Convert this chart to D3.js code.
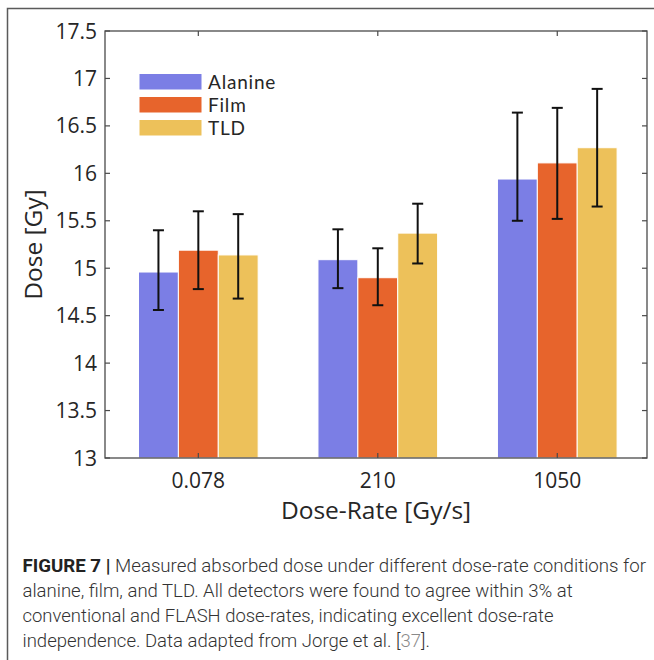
<!DOCTYPE html>
<html>
<head>
<meta charset="utf-8">
<script src="https://cdn.jsdelivr.net/npm/d3@7"></script>
<style>
  html, body { margin: 0; padding: 0; background: #fff; }
  svg { display: block; }
</style>
</head>
<body>
<svg id="chart" width="654" height="660"></svg>
<script>
// ---------- data ----------
const categories = ["0.078", "210", "1050"];
const seriesNames = ["Alanine", "Film", "TLD"];
const seriesColors = ["#7b7ee5", "#e7642c", "#edc15a"];
const alanine = [14.96, 15.09, 15.94];
const film    = [15.19, 14.90, 16.11];
const tld     = [15.14, 15.37, 16.27];
const alanineLow  = [14.56, 14.79, 15.50];
const alanineHigh = [15.40, 15.41, 16.64];
const filmLow     = [14.78, 14.61, 15.52];
const filmHigh    = [15.60, 15.21, 16.69];
const tldLow      = [14.68, 15.05, 15.65];
const tldHigh     = [15.57, 15.68, 16.89];
const yTicks = [13, 13.5, 14, 14.5, 15, 15.5, 16, 16.5, 17, 17.5];
const yTickLabels = ["13", "13.5", "14", "14.5", "15", "15.5", "16", "16.5", "17", "17.5"];
const yLabel = "Dose [Gy]";
const xLabel = "Dose-Rate [Gy/s]";
const captionBold = "FIGURE 7 |";
const captionLines = [
  "Measured absorbed dose under different dose-rate conditions for",
  "alanine, film, and TLD. All detectors were found to agree within 3% at",
  "conventional and FLASH dose-rates, indicating excellent dose-rate",
  "independence. Data adapted from Jorge et al. ["
];
const captionRef = "37";
const captionTail = "].";

const values = [alanine, film, tld];
const lows = [alanineLow, filmLow, tldLow];
const highs = [alanineHigh, filmHigh, tldHigh];

// ---------- layout ----------
const svg = d3.select("#chart");
const pLeft = 105, pRight = 647, pTop = 31, pBottom = 458;

const x = d3.scaleLinear().domain([0.48, 3.5]).range([pLeft, pRight]);
const y = d3.scaleLinear().domain([13, 17.5]).range([pBottom, pTop]);
const groupWidth = 3 / (3 + 1.5);
const barW = groupWidth / 3;
function ci2x(ci) { return ci + 1; }

// outer frame (partially cropped)
svg.append("path")
  .attr("d", "M7.5,660 L7.5,8.5 L654,8.5")
  .attr("fill", "none").attr("stroke", "#5a5a5a").attr("stroke-width", 1.5);

// bars
const bars = [];
seriesNames.forEach((s, si) => {
  categories.forEach((c, ci) => {
    bars.push({ si, ci, v: values[si][ci], lo: lows[si][ci], hi: highs[si][ci] });
  });
});

const g = svg.append("g");
g.selectAll("rect.bar").data(bars).enter().append("rect")
  .attr("class", "bar")
  .attr("x", d => x(ci2x(d.ci) + (d.si - 1) * barW - barW / 2))
  .attr("width", d => x(barW) - x(0))
  .attr("y", d => y(d.v))
  .attr("height", d => y(13) - y(d.v))
  .attr("fill", d => seriesColors[d.si])
  .attr("stroke", "#fff").attr("stroke-width", 1);

// error bars
const capHalf = 5.5;
const eg = g.selectAll("g.err").data(bars).enter().append("g").attr("class", "err");
eg.append("line")
  .attr("x1", d => x(ci2x(d.ci) + (d.si - 1) * barW))
  .attr("x2", d => x(ci2x(d.ci) + (d.si - 1) * barW))
  .attr("y1", d => y(d.lo)).attr("y2", d => y(d.hi))
  .attr("stroke", "#111").attr("stroke-width", 2);
["lo", "hi"].forEach(k => {
  eg.append("line")
    .attr("x1", d => x(ci2x(d.ci) + (d.si - 1) * barW) - capHalf)
    .attr("x2", d => x(ci2x(d.ci) + (d.si - 1) * barW) + capHalf)
    .attr("y1", d => y(d[k])).attr("y2", d => y(d[k]))
    .attr("stroke", "#111").attr("stroke-width", 2);
});

// axes box
const axisColor = "#4a4a4a";
svg.append("rect")
  .attr("x", pLeft).attr("y", pTop)
  .attr("width", pRight - pLeft).attr("height", pBottom - pTop)
  .attr("fill", "none").attr("stroke", axisColor).attr("stroke-width", 1.3);

const tickLen = 5;
yTicks.forEach((t, i) => {
  svg.append("line").attr("x1", pLeft).attr("x2", pLeft + tickLen)
    .attr("y1", y(t)).attr("y2", y(t)).attr("stroke", axisColor).attr("stroke-width", 1.2);
  svg.append("line").attr("x1", pRight).attr("x2", pRight - tickLen)
    .attr("y1", y(t)).attr("y2", y(t)).attr("stroke", axisColor).attr("stroke-width", 1.2);
  svg.append("text")
    .attr("x", pLeft - 8).attr("y", y(t)).attr("dy", "0.36em")
    .attr("text-anchor", "end")
    .attr("font-family", "Open Sans").attr("font-size", 21)
    .attr("fill", "#262626")
    .text(yTickLabels[i]);
});
categories.forEach((c, ci) => {
  const xx = x(ci2x(ci));
  svg.append("line").attr("x1", xx).attr("x2", xx)
    .attr("y1", pBottom).attr("y2", pBottom - tickLen).attr("stroke", axisColor).attr("stroke-width", 1.2);
  svg.append("line").attr("x1", xx).attr("x2", xx)
    .attr("y1", pTop).attr("y2", pTop + tickLen).attr("stroke", axisColor).attr("stroke-width", 1.2);
  svg.append("text")
    .attr("x", xx).attr("y", pBottom + 29.5)
    .attr("text-anchor", "middle")
    .attr("font-family", "Open Sans").attr("font-size", 21)
    .attr("fill", "#262626")
    .text(c);
});

// axis labels
svg.append("text")
  .attr("x", (pLeft + pRight) / 2).attr("y", 519)
  .attr("text-anchor", "middle")
  .attr("font-family", "Open Sans").attr("font-size", 24.5)
  .attr("fill", "#262626")
  .text(xLabel);
svg.append("text")
  .attr("transform", `translate(41.5,${(pTop + pBottom) / 2}) rotate(-90)`)
  .attr("text-anchor", "middle")
  .attr("font-family", "Open Sans").attr("font-size", 24.5)
  .attr("fill", "#262626")
  .text(yLabel);

// legend
const lg = svg.append("g");
seriesNames.forEach((s, i) => {
  const ly = 74 + i * 23;
  lg.append("rect").attr("x", 139.5).attr("y", ly).attr("width", 62).attr("height", 15.5)
    .attr("fill", seriesColors[i]);
  lg.append("text").attr("x", 208).attr("y", ly + 15.3)
    .attr("font-family", "Lato").attr("font-size", 19)
    .attr("letter-spacing", 0.8)
    .attr("fill", "#262626").text(s);
});

// caption: each line is horizontally scaled to the reference's condensed width
const capFont = "Roboto";
const capSize = 19;
const capX = 22.5;
const capBase = [572, 597, 622, 647];
const capEnds = [646.7, 573.3, 554, 430];

function fitLine(startX, baseY, endX, parts) {
  const grp = svg.append("g");
  const t = grp.append("text")
    .attr("x", 0).attr("y", 0)
    .attr("font-family", capFont).attr("font-size", capSize);
  parts.forEach(p => {
    t.append("tspan").attr("font-weight", p.w).attr("fill", p.c).text(p.s);
  });
  const natural = t.node().getComputedTextLength();
  const k = (endX - startX) / natural;
  grp.attr("transform", `translate(${startX},${baseY}) scale(${k},1)`);
}

fitLine(capX, capBase[0], capEnds[0], [
  { s: captionBold + " ", w: 700, c: "#222" },
  { s: captionLines[0], w: 300, c: "#333" }
]);
fitLine(capX, capBase[1], capEnds[1], [{ s: captionLines[1], w: 300, c: "#333" }]);
fitLine(capX, capBase[2], capEnds[2], [{ s: captionLines[2], w: 300, c: "#333" }]);
fitLine(capX, capBase[3], capEnds[3], [
  { s: captionLines[3], w: 300, c: "#333" },
  { s: captionRef, w: 300, c: "#8a8a8a" },
  { s: captionTail, w: 300, c: "#333" }
]);
</script>
</body>
</html>
